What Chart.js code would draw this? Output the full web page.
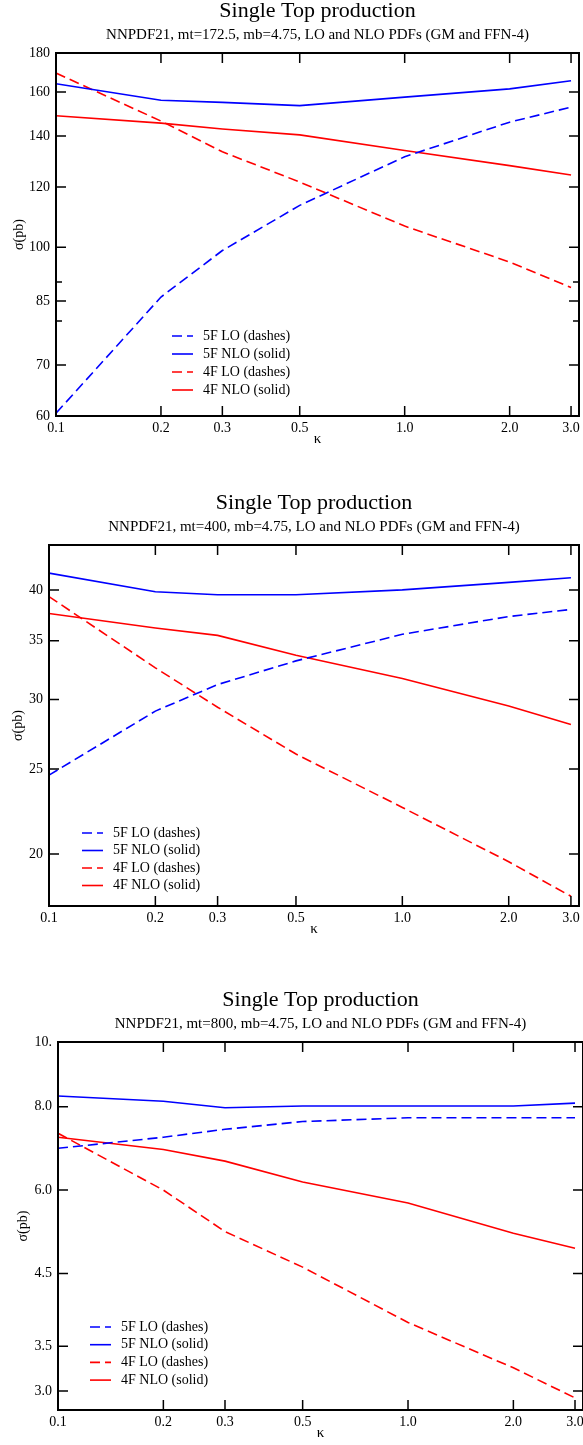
<!DOCTYPE html>
<html>
<head>
<meta charset="utf-8">
<script src="https://cdn.jsdelivr.net/npm/chart.js@4.4.1/dist/chart.umd.min.js"></script>
<style>
  html, body { margin: 0; padding: 0; background: #fff; overflow: hidden; }
  body { width: 583px; height: 1445px; position: relative; }
  .panel { position: absolute; left: 0; width: 600px; }
</style>
</head>
<body>
<div class="panel" style="top:-2px;height:458px"><canvas id="c172"></canvas></div>
<div class="panel" style="top:490px;height:456px"><canvas id="c400"></canvas></div>
<div class="panel" style="top:987px;height:463px"><canvas id="c800"></canvas></div>
<script>
const kappa = [0.1, 0.2, 0.3, 0.5, 1.0, 2.0, 3.0];
const kappaLabels = ['0.1', '0.2', '0.3', '0.5', '1.0', '2.0', '3.0'];
const seriesNames = ['5F LO (dashes)', '5F NLO (solid)', '4F LO (dashes)', '4F NLO (solid)'];

// mt = 172.5
const lo5_172 = [60.5, 86, 99, 113.5, 131.5, 146, 152.8];
const nlo5_172 = [164, 156, 155, 153.5, 157.5, 161.5, 165.5];
const lo4_172 = [169.4, 146.5, 133.5, 121.8, 106.6, 95.6, 88.5];
const nlo4_172 = [148.9, 145.6, 143, 140.5, 134, 128, 124.4];
const yTicks172 = [60, 70, 80, 85, 90, 100, 120, 140, 160, 180];
const yLabels172 = ['60', '70', '', '85', '', '100', '120', '140', '160', '180'];

// mt = 400
const lo5_400 = [24.6, 29.1, 31.2, 33.2, 35.6, 37.3, 38.0];
const nlo5_400 = [41.8, 39.8, 39.5, 39.5, 40.0, 40.8, 41.3];
const lo4_400 = [39.3, 32.6, 29.4, 26.0, 22.6, 19.6, 17.9];
const nlo4_400 = [37.6, 36.2, 35.5, 33.7, 31.7, 29.5, 28.1];
const yTicks400 = [20, 25, 30, 35, 40];
const yLabels400 = ['20', '25', '30', '35', '40'];

// mt = 800
const lo5_800 = [6.93, 7.2, 7.4, 7.6, 7.7, 7.7, 7.7];
const nlo5_800 = [8.3, 8.15, 7.97, 8.02, 8.02, 8.02, 8.1];
const lo4_800 = [7.3, 6.0, 5.2, 4.6, 3.8, 3.25, 2.93];
const nlo4_800 = [7.2, 6.9, 6.63, 6.17, 5.74, 5.17, 4.91];
const yTicks800 = [3, 3.5, 4.5, 6, 8, 10];
const yLabels800 = ['3.0', '3.5', '4.5', '6.0', '8.0', '10.'];

const serif = '"Liberation Serif", "Times New Roman", serif';

// inward ticks on all four sides + the closed frame
const frameTicks = {
  id: 'frameTicks',
  afterDatasetsDraw(chart) {
    const { ctx, chartArea: a, scales: { x, y } } = chart;
    ctx.save();
    ctx.strokeStyle = '#000';
    ctx.lineWidth = 1.5;
    ctx.beginPath();
    x.ticks.forEach(t => {
      const px = x.getPixelForValue(t.value);
      ctx.moveTo(px, a.bottom); ctx.lineTo(px, a.bottom - 10);
      ctx.moveTo(px, a.top); ctx.lineTo(px, a.top + 10);
    });
    y.ticks.forEach(t => {
      const py = y.getPixelForValue(t.value);
      const len = t.label === '' ? 6 : 10;
      ctx.moveTo(a.left, py); ctx.lineTo(a.left + len, py);
      ctx.moveTo(a.right, py); ctx.lineTo(a.right - len, py);
    });
    ctx.stroke();
    ctx.lineWidth = 2;
    ctx.strokeRect(a.left, a.top, a.right - a.left, a.bottom - a.top);
    ctx.restore();
  }
};

const boxLegend = {
  id: 'boxLegend',
  afterDraw(chart, args, opts) {
    const { ctx, chartArea: a } = chart;
    ctx.save();
    ctx.font = '14px ' + serif;
    ctx.textBaseline = 'middle';
    chart.data.datasets.forEach((ds, i) => {
      const yy = a.bottom + opts.top + i * opts.gap;
      const x0 = a.left + opts.left;
      ctx.strokeStyle = ds.borderColor;
      ctx.lineWidth = 1.6;
      ctx.setLineDash(ds.borderDash || []);
      ctx.beginPath();
      ctx.moveTo(x0, yy);
      ctx.lineTo(x0 + 21, yy);
      ctx.stroke();
      ctx.setLineDash([]);
      ctx.fillStyle = '#000';
      ctx.fillText(ds.label, x0 + 31, yy);
    });
    ctx.restore();
  }
};

function line(label, vals, color, dashed) {
  return {
    label: label,
    data: kappa.map((k, i) => ({ x: k, y: vals[i] })),
    borderColor: color,
    borderWidth: 1.6,
    borderDash: dashed ? [10, 5] : [],
    pointRadius: 0,
    tension: 0,
    fill: false
  };
}

function makeChart(id, subtitle, sets, yMin, yMax, yTicks, yLabels, lay) {
  new Chart(document.getElementById(id), {
    type: 'line',
    data: {
      datasets: [
        line(seriesNames[0], sets[0], '#0000ff', true),
        line(seriesNames[1], sets[1], '#0000ff', false),
        line(seriesNames[2], sets[2], '#ff0000', true),
        line(seriesNames[3], sets[3], '#ff0000', false)
      ]
    },
    options: {
      responsive: true,
      maintainAspectRatio: false,
      animation: false,
      layout: { padding: { left: 0, right: lay.right, top: 0, bottom: 0 } },
      plugins: {
        legend: { display: false },
        tooltip: { enabled: false },
        title: {
          display: true,
          fullSize: false,
          text: 'Single Top production',
          color: '#000',
          font: { family: serif, size: 22, weight: 'normal' },
          padding: { top: 0, bottom: 2 }
        },
        subtitle: {
          display: true,
          fullSize: false,
          text: subtitle,
          color: '#000',
          font: { family: serif, size: 15, weight: 'normal' },
          padding: { top: 0, bottom: 8.6 }
        },
        boxLegend: lay.legend
      },
      scales: {
        x: {
          type: 'logarithmic',
          min: 0.1,
          max: 3.162,
          afterBuildTicks: s => { s.ticks = kappa.map(v => ({ value: v })); },
          afterFit: s => { s.height = 40; },
          ticks: {
            autoSkip: false,
            maxRotation: 0,
            padding: 4,
            color: '#000',
            font: { family: serif, size: 14 },
            callback: (v, i) => kappaLabels[i]
          },
          grid: { display: false, drawTicks: false },
          border: { display: false },
          title: {
            display: true,
            text: 'κ',
            color: '#000',
            font: { family: serif, size: 15 },
            padding: { top: 0, bottom: 8 }
          }
        },
        y: {
          type: 'logarithmic',
          min: yMin,
          max: yMax,
          afterBuildTicks: s => { s.ticks = yTicks.map(v => ({ value: v })); },
          afterFit: s => { s.width = lay.left; },
          ticks: {
            autoSkip: false,
            padding: 6,
            color: '#000',
            font: { family: serif, size: 14 },
            callback: (v, i) => yLabels[i]
          },
          grid: { display: false, drawTicks: false },
          border: { display: false },
          title: {
            display: true,
            text: 'σ(pb)',
            color: '#000',
            font: { family: serif, size: 14 },
            padding: { top: lay.yTitle, bottom: 0 }
          }
        }
      }
    },
    plugins: [frameTicks, boxLegend]
  });
}

makeChart('c172', 'NNPDF21, mt=172.5, mb=4.75, LO and NLO PDFs (GM and FFN-4)',
  [lo5_172, nlo5_172, lo4_172, nlo4_172], 60, 180, yTicks172, yLabels172,
  { left: 56, right: 21, yTitle: 10.6, legend: { left: 116, top: -80, gap: 18 } });

makeChart('c400', 'NNPDF21, mt=400, mb=4.75, LO and NLO PDFs (GM and FFN-4)',
  [lo5_400, nlo5_400, lo4_400, nlo4_400], 17.45, 45, yTicks400, yLabels400,
  { left: 49, right: 21, yTitle: 9.6, legend: { left: 33, top: -73, gap: 17.5 } });

makeChart('c800', 'NNPDF21, mt=800, mb=4.75, LO and NLO PDFs (GM and FFN-4)',
  [lo5_800, nlo5_800, lo4_800, nlo4_800], 2.81, 10, yTicks800, yLabels800,
  { left: 58, right: 17, yTitle: 14.6, legend: { left: 32, top: -83, gap: 17.7 } });
</script>
</body>
</html>
